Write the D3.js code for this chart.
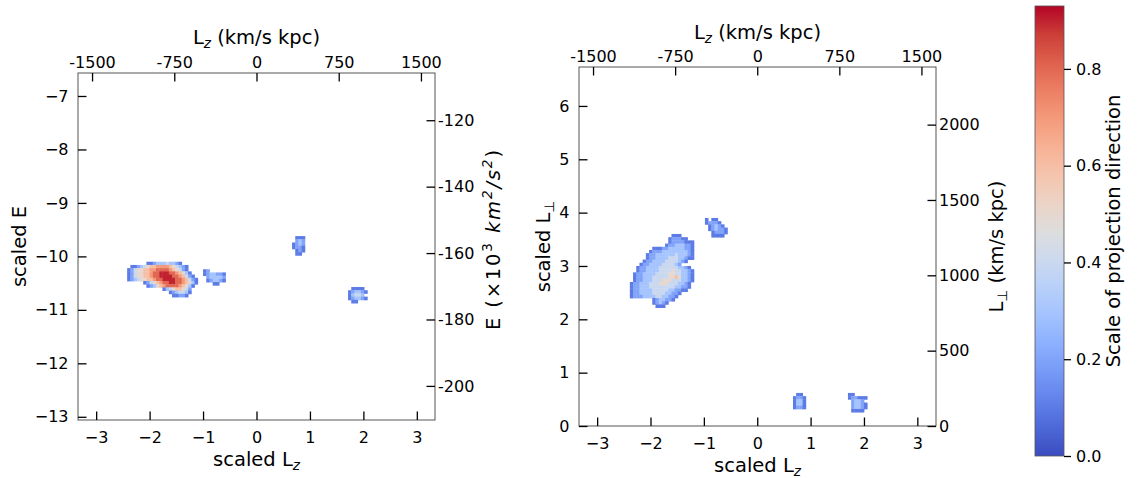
<!DOCTYPE html>
<html><head><meta charset="utf-8">
<script src="https://cdn.jsdelivr.net/npm/d3@7"></script>
<style>body{margin:0;background:#fff} text{font-family:"DejaVu Sans",sans-serif;fill:#000}</style>
</head><body><svg id="c" width="1141" height="478"></svg>
<script>
// ---------------- data ----------------
const cellSize = 0.06;             // bin size in scaled units
const lzTicks = [-3,-2,-1,0,1,2,3];
const lzPhysTicks = [-1500,-750,0,750,1500];
const eTicks = [-13,-12,-11,-10,-9,-8,-7];
const ePhysTicks = [-200,-180,-160,-140,-120];
const lpTicks = [0,1,2,3,4,5,6];
const lpPhysTicks = [0,500,1000,1500,2000];
const cbTicks = [0,0.2,0.4,0.6,0.8];
const cbMax = 0.93;
const lzUnit = 487.5;   // km/s kpc per scaled unit
const eUnit = 16.1;     // 10^3 km^2/s^2 per scaled unit
const lpUnit = 354;     // km/s kpc per scaled unit
// cell values: digit d -> d/10, '.' empty
const leftBlobs = [
  {x0:-2.42, y0:-10.10, rows:[
    "......11233343321.....",
    ".112345667777654321...",
    "1245566778888765421...",
    "12455667889998876531..",
    "124556678899998876421.",
    "1234556678899998876421",
    ".....12456788998876531",
    "......123567888876531.",
    "...........134566542..",
    ".............1234431..",
    "..............11221..."]},
  {x0:-1.00, y0:-10.24, rows:[
    "12.....",
    "1233221",
    ".233332",
    ".123321",
    "...11.."]},
  {x0:0.665, y0:-9.62, rows:[
    ".111",
    ".232",
    "1232",
    "1221",
    ".121",
    ".11."]},
  {x0:1.713, y0:-10.573, rows:[
    ".1111.",
    "123321",
    "13443.",
    "123321",
    ".11..."]}
];
const rightBlobs = [
  {x0:-2.387, y0:3.60, rows:[
    ".............111.....",
    "............122211...",
    "............12222111.",
    "...........122333221.",
    ".......1112233333221.",
    "......12223333333321.",
    ".....122333333433321.",
    ".....122333344433211.",
    "....12233334444321...",
    "...1223333444432.....",
    "..12233334444443321..",
    "..122333344445443321.",
    ".1223333444455443321.",
    ".1223334444455653321.",
    ".1223334445554443321.",
    "1223334445554443321..",
    "1223334444444433221..",
    "122333344444332211...",
    "1223333444433221.....",
    "122233334433221......",
    ".......1233221.......",
    ".......12321.........",
    "........111.........."]},
  {x0:-0.98, y0:3.90, rows:[
    "1.11...",
    "12221..",
    ".12321.",
    ".123221",
    "..12221",
    "..1111."]},
  {x0:0.67, y0:0.62, rows:[
    ".11.",
    "1221",
    "1331",
    "1331",
    "1221"]},
  {x0:1.70, y0:0.62, rows:[
    "11....",
    "122111",
    ".2332.",
    ".23321",
    ".23321",
    ".1111."]}
];
// coolwarm (Moreland) anchor colours
const coolwarmColors = ["#3b4cc0","#4d68d7","#6282ea","#779af7","#8db0fe","#a3c2ff","#b8d0f9","#ccd9ee",
  "#dddddd","#ecd3c5","#f5c4ad","#f7b194","#f49a7b","#ec7f63","#de604d","#cb3e38","#b40426"];

// ---------------- layout ----------------
const layout = {
  left:  {x0:78,  x1:435, y0:73, y1:420, xDom:[-3.34,3.34], yDom:[-13.06,-6.57]},
  right: {x0:579, x1:936, y0:67, y1:426, xDom:[-3.34,3.35], yDom:[0,6.73]},
  cbar:  {x0:1035, x1:1064, y0:6, y1:456}
};
const TICK_FS = 16, LABEL_FS = 19.5, TL = 8.5;

const svg = d3.select("#c");
const cw = d3.scaleLinear()
  .domain(coolwarmColors.map((d,i)=>i/(coolwarmColors.length-1)))
  .range(coolwarmColors).interpolate(d3.interpolateRgb).clamp(true);
const color = v => cw(v/cbMax);
const intFmt = d3.format("d");

function styleAxis(g){
  g.select(".domain").remove();
  g.selectAll(".tick line").attr("stroke","#000").attr("stroke-width",1.3);
  g.selectAll(".tick text").attr("font-size",TICK_FS).attr("font-family","DejaVu Sans").attr("fill","#000");
}

function panel(L, blobs, yTicks, rightTicks, rightUnit){
  const x = d3.scaleLinear().domain(L.xDom).range([L.x0,L.x1]);
  const y = d3.scaleLinear().domain(L.yDom).range([L.y1,L.y0]);
  const xt = d3.scaleLinear().domain(L.xDom.map(d=>d*lzUnit)).range([L.x0,L.x1]);
  const yr = d3.scaleLinear().domain(L.yDom.map(d=>d*rightUnit)).range([L.y1,L.y0]);
  const cells = [];
  blobs.forEach(b=>b.rows.forEach((row,r)=>{
    for(let c=0;c<row.length;c++){
      const ch=row[c]; if(ch===".") continue;
      cells.push({x:b.x0+c*cellSize, y:b.y0-r*cellSize, v:(+ch)/10});
    }
  }));
  svg.append("g").selectAll("rect").data(cells).join("rect")
    .attr("x",d=>x(d.x)).attr("y",d=>y(d.y))
    .attr("width",d=>x(d.x+cellSize)-x(d.x)+0.4)
    .attr("height",d=>y(d.y-cellSize)-y(d.y)+0.4)
    .attr("fill",d=>color(d.v));
  svg.append("rect").attr("x",L.x0).attr("y",L.y0).attr("width",L.x1-L.x0).attr("height",L.y1-L.y0)
    .attr("fill","none").attr("stroke","#555").attr("stroke-width",1);
  svg.append("g").attr("transform",`translate(0,${L.y1})`)
    .call(d3.axisBottom(x).tickValues(lzTicks).tickFormat(intFmt).tickSizeInner(-TL).tickSizeOuter(0).tickPadding(11.5)).call(styleAxis);
  svg.append("g").attr("transform",`translate(${L.x0},0)`)
    .call(d3.axisLeft(y).tickValues(yTicks).tickFormat(intFmt).tickSizeInner(-TL).tickSizeOuter(0).tickPadding(9.5)).call(styleAxis);
  svg.append("g").attr("transform",`translate(0,${L.y0})`)
    .call(d3.axisTop(xt).tickValues(lzPhysTicks).tickFormat(d=>String(d)).tickSizeInner(-TL).tickSizeOuter(0).tickPadding(5.5)).call(styleAxis);
  svg.append("g").attr("transform",`translate(${L.x1},0)`)
    .call(d3.axisRight(yr).tickValues(rightTicks).tickFormat(d=>String(d)).tickSizeInner(-TL).tickSizeOuter(0).tickPadding(3)).call(styleAxis);
  return {x,y};
}

panel(layout.left, leftBlobs, eTicks, ePhysTicks, eUnit);
panel(layout.right, rightBlobs, lpTicks, lpPhysTicks, lpUnit);

// ---- axis labels ----
function titleLabel(cx, by){
  const t = svg.append("text").attr("x",cx).attr("y",by).attr("font-size",LABEL_FS).attr("text-anchor","middle");
  t.append("tspan").text("L");
  t.append("tspan").attr("dy",4).attr("font-size",LABEL_FS*0.7).attr("font-style","italic").text("z");
  t.append("tspan").attr("dy",-4).text(" (km/s kpc)");
}
titleLabel((layout.left.x0+layout.left.x1)/2, 44);
titleLabel((layout.right.x0+layout.right.x1)/2, 39);
function bottomLabel(cx, by){
  const t = svg.append("text").attr("x",cx).attr("y",by).attr("font-size",LABEL_FS).attr("text-anchor","middle");
  t.append("tspan").text("scaled L");
  t.append("tspan").attr("dy",4).attr("font-size",LABEL_FS*0.7).attr("font-style","italic").text("z");
}
bottomLabel((layout.left.x0+layout.left.x1)/2, 466);
bottomLabel((layout.right.x0+layout.right.x1)/2, 472);
function rotText(bx, cy){
  return svg.append("text").attr("transform",`translate(${bx},${cy}) rotate(-90)`)
    .attr("font-size",LABEL_FS).attr("text-anchor","middle");
}
const lcy = (layout.left.y0+layout.left.y1)/2, rcy = (layout.right.y0+layout.right.y1)/2;
rotText(25.5, lcy).text("scaled E");
{
  const t = rotText(550, rcy);
  t.append("tspan").text("scaled L");
  t.append("tspan").attr("dy",4).attr("font-size",LABEL_FS*0.7).text("⊥");
}
{
  const t = rotText(500, 240);
  t.append("tspan").text("E (×10");
  t.append("tspan").attr("dy",-8).attr("font-size",LABEL_FS*0.7).text("3");
  t.append("tspan").attr("dy",8).attr("font-style","italic").text(" km");
  t.append("tspan").attr("dy",-8).attr("font-size",LABEL_FS*0.7).attr("font-style","italic").text("2");
  t.append("tspan").attr("dy",8).attr("font-style","italic").text("/s");
  t.append("tspan").attr("dy",-8).attr("font-size",LABEL_FS*0.7).attr("font-style","italic").text("2");
  t.append("tspan").attr("dy",8).text(")");
  t.attr("textLength",180).attr("lengthAdjust","spacing");
}
{
  const t = rotText(1003, rcy);
  t.append("tspan").text("L");
  t.append("tspan").attr("dy",4).attr("font-size",LABEL_FS*0.7).text("⊥");
  t.append("tspan").attr("dy",-4).text(" (km/s kpc)");
}

// ---- colorbar ----
const C = layout.cbar;
const cy = d3.scaleLinear().domain([0,cbMax]).range([C.y1,C.y0]);
const grad = svg.append("defs").append("linearGradient").attr("id","cwg")
  .attr("x1",0).attr("y1",1).attr("x2",0).attr("y2",0);
coolwarmColors.forEach((c,i)=>grad.append("stop").attr("offset",i/(coolwarmColors.length-1)).attr("stop-color",c));
svg.append("rect").attr("x",C.x0).attr("y",C.y0).attr("width",C.x1-C.x0).attr("height",C.y1-C.y0)
  .attr("fill","url(#cwg)").attr("stroke","#555").attr("stroke-width",0.8);
svg.append("g").attr("transform",`translate(${C.x1},0)`)
  .call(d3.axisRight(cy).tickValues(cbTicks).tickFormat(d3.format(".1f")).tickSizeInner(7).tickSizeOuter(0).tickPadding(5))
  .call(styleAxis);
rotText(1119.5, (C.y0+C.y1)/2).text("Scale of projection direction");
</script></body></html>
